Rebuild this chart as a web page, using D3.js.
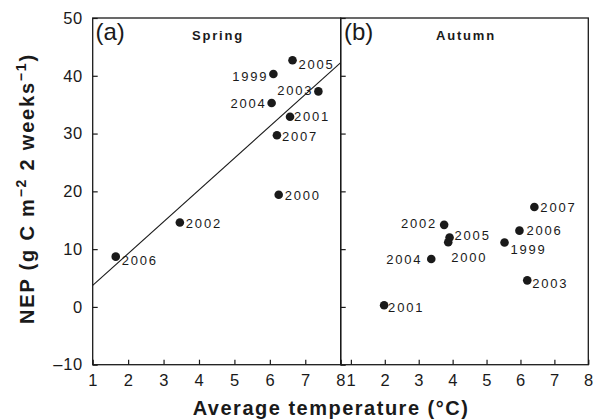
<!DOCTYPE html>
<html>
<head>
<meta charset="utf-8">
<script src="https://cdn.jsdelivr.net/npm/d3@7"></script>
<style>
  html, body { margin: 0; padding: 0; background: #fff; }
  svg { display: block; font-family: "Liberation Sans", Arial, sans-serif; }
</style>
</head>
<body>
<svg id="chart" width="594" height="420"></svg>
<script>
// Years observed in each season
const springYears = [1999, 2000, 2001, 2002, 2003, 2004, 2005, 2006, 2007];
// Spring: mean air temperature (°C) and NEP (g C m-2 per 2 weeks)
const springTemp = [6.10, 6.25, 6.57, 3.46, 7.37, 6.05, 6.64, 1.65, 6.20];
const springNEP  = [40.3, 19.4, 32.9, 14.6, 37.3, 35.3, 42.7, 8.7, 29.7];

const autumnYears = [1999, 2000, 2001, 2002, 2003, 2004, 2005, 2006, 2007];
const autumnTemp = [5.53, 3.87, 1.98, 3.75, 6.20, 3.37, 3.91, 5.97, 6.41];
const autumnNEP  = [11.15, 11.2, 0.3, 14.2, 4.6, 8.3, 12.0, 13.2, 17.3];

// Axis ticks
const yTicks = [-10, 0, 10, 20, 30, 40, 50];
const xTicks = [1, 2, 3, 4, 5, 6, 7, 8];

// Where each year label sits relative to its dot: [dx, dy, text-anchor]
const springLabelPlace = {
  1999: [-5, 2, "end"], 2000: [6, 1, "start"], 2001: [4, 0, "start"],
  2002: [6, 1, "start"], 2003: [-5, -1, "end"], 2004: [-5, 0, "end"],
  2005: [6, 4, "start"], 2006: [6, 4, "start"], 2007: [5, 1.5, "start"]
};
const autumnLabelPlace = {
  1999: [6, 7, "start"], 2000: [3, 15, "start"], 2001: [4, 2, "start"],
  2002: [-7, -2, "end"], 2003: [5, 2.5, "start"], 2004: [-9, 0, "end"],
  2005: [5, -2, "start"], 2006: [7, 0, "start"], 2007: [6, 0, "start"]
};

const svg = d3.select("#chart");
const ink = "#1a1a1a";

const plotTop = 18, plotBottom = 364.7;
const leftX0 = 92.7, midX = 340.7, rightX1 = 588.3;

const y = d3.scaleLinear().domain([-10, 50]).range([plotBottom, plotTop]);
const xA = d3.scaleLinear().domain([1, 8]).range([leftX0, midX]);
const xB = d3.scaleLinear().domain([0.7, 8]).range([midX, rightX1]);

// Least-squares line through the spring points
function fitLine(xs, ys) {
  const mx = d3.mean(xs), my = d3.mean(ys);
  let sxy = 0, sxx = 0;
  xs.forEach((v, i) => { sxy += (v - mx) * (ys[i] - my); sxx += (v - mx) * (v - mx); });
  const slope = sxy / sxx;
  return { slope, intercept: my - slope * mx };
}

function styleAxis(g) {
  g.selectAll(".domain").remove();
  g.selectAll(".tick line").attr("stroke", ink).attr("stroke-width", 1.2);
  g.selectAll(".tick text")
    .attr("fill", ink)
    .attr("font-size", 16.5)
    .attr("letter-spacing", 0.6)
    .attr("font-family", "'Liberation Sans', Arial, sans-serif");
}

const minusFmt = d => (d < 0 ? "\u2013" + Math.abs(d) : String(d));

// Left y axis (panel a) with labels
svg.append("g")
  .attr("transform", `translate(${leftX0},0)`)
  .call(d3.axisLeft(y).tickValues(yTicks).tickSize(-5).tickSizeOuter(0).tickPadding(10).tickFormat(minusFmt))
  .call(styleAxis);

// Inner ticks on the shared border for panel b
svg.append("g")
  .attr("transform", `translate(${midX},0)`)
  .call(d3.axisLeft(y).tickValues(yTicks).tickSize(-5).tickSizeOuter(0).tickFormat(""))
  .call(styleAxis);

// Bottom axes
[xA, xB].forEach(sc => {
  const g = svg.append("g")
    .attr("transform", `translate(0,${plotBottom})`)
    .call(d3.axisBottom(sc).tickValues(xTicks).tickSize(-5).tickSizeOuter(0).tickPadding(10).tickFormat(d3.format("d")))
    .call(styleAxis);
  g.selectAll(".tick text").attr("y", 9.5).attr("dy", "0.71em");
});

// Panel frames
[[leftX0, midX], [midX, rightX1]].forEach(([a, b]) => {
  svg.append("rect")
    .attr("x", a).attr("y", plotTop)
    .attr("width", b - a).attr("height", plotBottom - plotTop)
    .attr("fill", "none").attr("stroke", ink).attr("stroke-width", 1.3);
});

// Regression line in panel a
const fit = fitLine(springTemp, springNEP);
const lineX = xA.domain();
svg.append("line")
  .attr("x1", xA(lineX[0])).attr("y1", y(fit.intercept + fit.slope * lineX[0]))
  .attr("x2", xA(lineX[1])).attr("y2", y(fit.intercept + fit.slope * lineX[1]))
  .attr("stroke", ink).attr("stroke-width", 1.1);

function drawPoints(years, temps, neps, xs, place) {
  const data = years.map((yr, i) => ({ yr, t: temps[i], v: neps[i] }));
  const g = svg.append("g");
  g.selectAll("circle").data(data).join("circle")
    .attr("cx", d => xs(d.t)).attr("cy", d => y(d.v))
    .attr("r", 4.3).attr("fill", ink);
  g.selectAll("text").data(data).join("text")
    .attr("x", d => xs(d.t) + place[d.yr][0])
    .attr("y", d => y(d.v) + place[d.yr][1])
    .attr("dy", "0.36em")
    .attr("text-anchor", d => place[d.yr][2])
    .attr("font-size", 13)
    .attr("letter-spacing", 1.8)
    .attr("fill", ink)
    .text(d => d.yr);
}
drawPoints(springYears, springTemp, springNEP, xA, springLabelPlace);
drawPoints(autumnYears, autumnTemp, autumnNEP, xB, autumnLabelPlace);

// Panel tags and season names
svg.append("text").attr("x", 95.5).attr("y", 40).attr("font-size", 24).attr("fill", ink).text("(a)");
svg.append("text").attr("x", 344).attr("y", 40).attr("font-size", 24).attr("fill", ink).text("(b)");
svg.append("text").attr("x", 218).attr("y", 39.5).attr("text-anchor", "middle")
  .attr("font-size", 13).attr("font-weight", "bold").attr("letter-spacing", 1.8).attr("fill", ink).text("Spring");
svg.append("text").attr("x", 466).attr("y", 39.5).attr("text-anchor", "middle")
  .attr("font-size", 13).attr("font-weight", "bold").attr("letter-spacing", 1.8).attr("fill", ink).text("Autumn");

// Axis titles
svg.append("text").attr("x", 331).attr("y", 414.5).attr("text-anchor", "middle")
  .attr("font-size", 20).attr("font-weight", "bold").attr("letter-spacing", 1.5).attr("fill", ink)
  .text("Average temperature (\u00B0C)");

const yt = svg.append("text")
  .attr("transform", "translate(34,188.5) rotate(-90)")
  .attr("text-anchor", "middle")
  .attr("font-size", 20).attr("font-weight", "bold").attr("letter-spacing", 1.8).attr("fill", ink);
yt.append("tspan").text("NEP (g C m");
yt.append("tspan").attr("font-size", 14).attr("dy", -8).text("\u22122");
yt.append("tspan").attr("dy", 8).text(" 2 weeks");
yt.append("tspan").attr("font-size", 14).attr("dy", -8).text("\u22121");
yt.append("tspan").attr("dy", 8).text(")");
</script>
</body>
</html>
